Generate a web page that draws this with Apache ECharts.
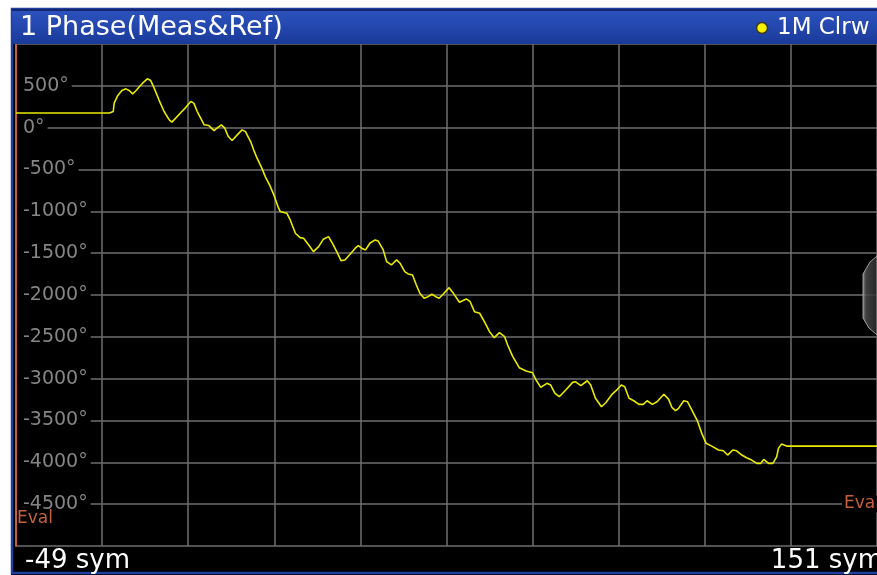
<!DOCTYPE html>
<html>
<head>
<meta charset="utf-8">
<script src="https://cdn.jsdelivr.net/npm/echarts@6/dist/echarts.min.js"></script>
<style>
html,body{margin:0;padding:0;background:#fff;}
#chart{width:877px;height:575px;}
</style>
</head>
<body>
<div id="chart"></div>
<script>
// Symbol index (sym) of each trace point
var symbols = [-49, -27.3, -26.9, -26.4, -26.2, -25.4, -24.4, -23.5, -22.7, -21.9, -21.1,
  -20.4, -19.6, -18.5, -17.7, -16.9, -15.8, -14.6, -13.4, -12.8, -11.9,
  -10.7, -9.6, -8.4, -7.7, -6.9, -6.1, -5.3, -4.2, -3.0, -2.3,
  -1.3, -0.5, 0.3, 1.2, 2.4, 3.5, 4.3, 5.5, 6.2, 7.0,
  8.1, 8.9, 9.9, 10.9, 12.0, 12.4, 13.9, 14.7, 15.9, 17.0,
  17.8, 19.0, 20.1, 21.3, 22.4, 23.6, 24.7, 25.5, 26.5, 27.4,
  28.6, 29.8, 30.5, 31.3, 32.2, 33.2, 34.4, 35.1, 36.3, 37.1,
  38.2, 39.4, 40.2, 41.3, 42.1, 43.1, 44.0, 44.8, 45.8, 46.7,
  47.6, 48.5, 49.3, 50.2, 51.6, 52.5, 54.0, 55.6, 56.5, 57.5,
  58.7, 59.8, 61.0, 62.1, 63.3, 64.5, 65.2, 66.4, 67.9, 69.5,
  71.0, 71.8, 72.9, 74.3, 75.2, 76.2, 77.2, 78.7, 80.3, 81.0,
  82.2, 83.7, 84.5, 85.6, 87.0, 88.0, 89.5, 90.7, 91.6, 92.4,
  93.4, 94.5, 95.7, 96.7, 97.6, 98.8, 99.9, 101.5, 102.6, 103.4,
  104.2, 104.9, 106.1, 107.0, 108.0, 109.2, 110.3, 111.3, 112.6, 114.2,
  115.3, 116.3, 117.5, 118.4, 119.6, 120.7, 121.9, 123.1, 124.0, 124.7,
  125.8, 126.8, 127.7, 128.1, 128.8, 130.0, 151];

// Phase (degrees) at each point
var phases = [175, 175, 162, 193, 293, 380, 444, 464, 444, 404, 444,
  485, 532, 584, 563, 473, 333, 193, 93, 66, 114,
  181, 240, 312, 293, 193, 114, 34, 25, -35, -6,
  34, -6, -106, -154, -86, -26, -47, -166, -265, -365,
  -484, -585, -684, -804, -963, -1003, -1022, -1103, -1262, -1314,
  -1321, -1402, -1482, -1422, -1333, -1302, -1402, -1482, -1589, -1581,
  -1513, -1441, -1410, -1441, -1461, -1381, -1342, -1354, -1461, -1601,
  -1641, -1581, -1620, -1721, -1748, -1760, -1880, -1979, -2039, -2020,
  -1991, -2020, -2039, -1991, -1912, -1972, -2087, -2047, -2080, -2199,
  -2218, -2319, -2439, -2510, -2450, -2498, -2598, -2737, -2869, -2909,
  -2929, -3016, -3104, -3056, -3076, -3175, -3216, -3136, -3044, -3037,
  -3084, -3025, -3076, -3235, -3336, -3288, -3184, -3127, -3076, -3096,
  -3235, -3264, -3307, -3307, -3264, -3307, -3276, -3187, -3247, -3347,
  -3383, -3355, -3264, -3276, -3375, -3495, -3654, -3773, -3806, -3853,
  -3862, -3913, -3853, -3862, -3913, -3945, -3973, -4012, -4012, -3965,
  -4012, -4012, -3934, -3833, -3782, -3806, -3806];

var xStart = -49, xStop = 151;      // sym
var yMin = -5000, yMax = 1000, yStep = 500;
var titleText = '1 Phase(Meas&Ref)';
var traceText = '1M Clrw';
var startLabel = '-49 sym', stopLabel = '151 sym';
var evalText = 'Eval';

var trace = symbols.map(function (s, i) { return [s, phases[i]]; });

var chart = echarts.init(document.getElementById('chart'), null, {renderer: 'canvas'});
var FONT = 'DejaVu Sans';

var option = {
  backgroundColor: '#000',
  animation: false,
  grid: {left: 16, top: 44, width: 865, height: 502, containLabel: false},
  xAxis: [
    {type: 'value', min: xStart, max: xStop, show: true,
      axisLine: {show: false}, axisTick: {show: false}, axisLabel: {show: false}, splitLine: {show: false}},
    {type: 'value', min: 0, max: xStop - xStart, interval: 20, show: true,
      axisLine: {show: false}, axisTick: {show: false}, axisLabel: {show: false},
      splitLine: {show: true, lineStyle: {color: '#6e6e6e', width: 1.5}}}
  ],
  yAxis: {
    type: 'value', min: yMin, max: yMax, interval: yStep,
    axisLine: {show: true, onZero: false, lineStyle: {color: '#c4603e', width: 2}},
    axisTick: {show: false},
    splitLine: {show: true, lineStyle: {color: '#6e6e6e', width: 1.5}},
    axisLabel: {
      show: true, inside: true, margin: 1,
      showMinLabel: false, showMaxLabel: false,
      color: '#858585', fontFamily: FONT, fontSize: 19,
      backgroundColor: '#000', padding: [1, 3, 1, 6],
      formatter: function (v) { return v + '°'; }
    }
  },
  series: [{
    type: 'line', xAxisIndex: 0, data: trace, showSymbol: false, symbol: 'none',
    lineStyle: {color: '#eaea00', width: 1.6}, clip: true, z: 5
  }],
  graphic: [
    // white outer margins
    {type: 'rect', shape: {x: 0, y: 0, width: 877, height: 9}, style: {fill: '#fff'}, z: 100},
    {type: 'rect', shape: {x: 0, y: 0, width: 11, height: 575}, style: {fill: '#fff'}, z: 100},
    // frame
    {type: 'rect', shape: {x: 12, y: 9, width: 880, height: 564}, style: {fill: 'none', stroke: '#1f3f9e', lineWidth: 2.5}, z: 101},
    // header bar
    {type: 'rect', shape: {x: 12, y: 10, width: 870, height: 34},
      style: {fill: new echarts.graphic.LinearGradient(0, 0, 0, 1, [
        {offset: 0, color: '#2d52bd'}, {offset: 0.5, color: '#2347ad'}, {offset: 1, color: '#1a3a9a'}])}, z: 102},
    {type: 'line', shape: {x1: 12, y1: 10, x2: 877, y2: 10}, style: {stroke: '#14286e', lineWidth: 2}, z: 103},
    {type: 'text', x: 20, y: 28, style: {text: titleText, fill: '#fff', font: '27px "DejaVu Sans"', textVerticalAlign: 'middle'}, z: 104},
    {type: 'circle', shape: {cx: 762, cy: 28, r: 5.5}, style: {fill: '#f4f000', stroke: '#3a3a20', lineWidth: 1.5}, z: 104},
    {type: 'text', x: 777, y: 28, style: {text: traceText, fill: '#fff', font: '23px "DejaVu Sans"', textVerticalAlign: 'middle'}, z: 104},
    // bottom start / stop labels
    {type: 'text', x: 25, y: 561, style: {text: startLabel, fill: '#fff', font: '26px "DejaVu Sans"', textVerticalAlign: 'middle'}, z: 104},
    {type: 'text', x: 883, y: 561, style: {text: stopLabel, fill: '#fff', font: '26px "DejaVu Sans"', textAlign: 'right', textVerticalAlign: 'middle'}, z: 104},
    // eval markers
    {type: 'text', x: 17, y: 519, style: {text: evalText, fill: '#c4603e', font: '17px "DejaVu Sans"', textVerticalAlign: 'middle', backgroundColor: '#000'}, z: 104},
    {type: 'text', x: 842, y: 504, style: {text: evalText, fill: '#c4603e', font: '17px "DejaVu Sans"', textVerticalAlign: 'middle', backgroundColor: '#000', padding: [0, 0, 0, 2]}, z: 104},
    // scroll handle
    {type: 'polygon', shape: {points: [[877, 256], [870, 262], [863, 274], [863, 318], [869, 328], [877, 335]]},
      style: {fill: new echarts.graphic.LinearGradient(0, 0, 1, 0, [
        {offset: 0, color: '#9a9a9a'}, {offset: 0.25, color: '#4a4a4a'}, {offset: 1, color: '#2a2a2a'}]),
        stroke: '#b0b0b0', lineWidth: 1, opacity: 0.85}, z: 104}
  ]
};
chart.setOption(option);
</script>
</body>
</html>
